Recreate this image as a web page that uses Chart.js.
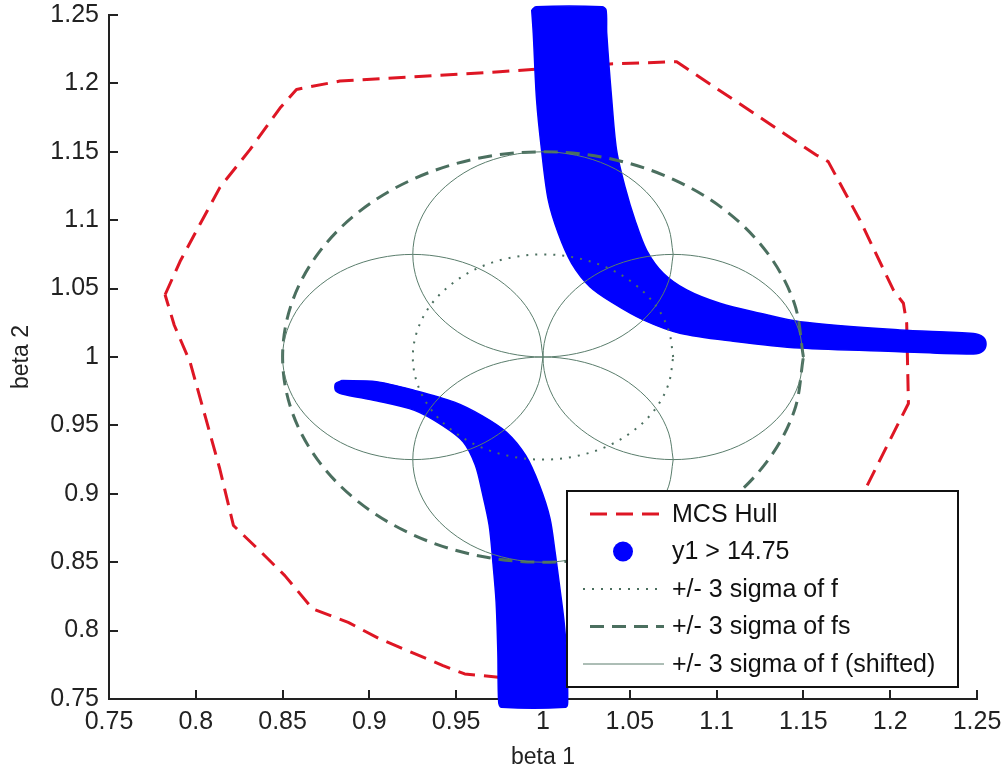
<!DOCTYPE html>
<html><head><meta charset="utf-8">
<script src="https://cdn.jsdelivr.net/npm/chart.js@4/dist/chart.umd.min.js"></script>
<style>html,body{margin:0;padding:0;background:#fff;}#wrap{position:relative;width:1007px;height:774px;}</style>
</head><body><div id="wrap"><canvas id="c" width="1007" height="774"></canvas></div>
<script>
// ---- tick labels ----
const xTickValues = [0.75,0.8,0.85,0.9,0.95,1,1.05,1.1,1.15,1.2,1.25];
const xTickLabels = ['0.75','0.8','0.85','0.9','0.95','1','1.05','1.1','1.15','1.2','1.25'];
const yTickValues = [0.75,0.8,0.85,0.9,0.95,1,1.05,1.1,1.15,1.2,1.25];
const yTickLabels = ['0.75','0.8','0.85','0.9','0.95','1','1.05','1.1','1.15','1.2','1.25'];

// ---- MCS Hull (red dashed) ----
const hullX = [0.7823,0.7909,0.8024,0.8139,0.8312,0.8485,0.858,0.883,0.975,1.0386,1.077,1.0828,1.1574,1.1643,1.1826,1.2018,1.2076,1.2095,1.2105,1.2018,1.1864,1.16,1.12,1.06,1.0,0.9743,0.9549,0.9424,0.906,0.8878,0.8673,0.8513,0.8377,0.8217,0.8138,0.8058,0.7967,0.7876,0.7823];
const hullY = [1.0455,1.0698,1.097,1.124,1.1516,1.182,1.1956,1.2017,1.2085,1.2142,1.2159,1.2109,1.1477,1.1428,1.1,1.049,1.0393,1.0246,0.966,0.9442,0.9052,0.87,0.83,0.79,0.767,0.7659,0.7683,0.7744,0.7939,0.806,0.8159,0.8402,0.8573,0.8768,0.9183,0.9549,0.9963,1.0232,1.0455];

// ---- y1 > 14.75 region outlines (blue) ----
const upperBandX = [0.9935,0.9944,0.9963,0.9992,1.003,1.0088,1.0165,1.027,1.0405,1.0578,1.0789,1.1096,1.148,1.2056,1.248,1.2535,1.2552,1.2535,1.248,1.2056,1.148,1.125,1.1019,1.0828,1.0693,1.0597,1.053,1.0472,1.0424,1.0396,1.0367,1.0363,1.034,0.996,0.9935];
const upperBandY = [1.2537,1.2366,1.188,1.151,1.115,1.0904,1.0685,1.0514,1.0393,1.0271,1.0173,1.0115,1.0065,1.0039,1.0022,1.0045,1.0095,1.0145,1.0172,1.0198,1.0258,1.032,1.0393,1.049,1.0612,1.078,1.1,1.1245,1.151,1.188,1.2366,1.2537,1.256,1.256,1.2537];
const lowerBandX = [0.8843,0.904,0.926,0.949,0.965,0.979,0.99,0.998,1.004,1.007,1.0095,1.012,1.0135,1.0142,1.013,0.976,0.9745,0.974,0.973,0.971,0.969,0.965,0.961,0.954,0.942,0.926,0.904,0.8843,0.8805,0.8805,0.8843];
const lowerBandY = [0.9828,0.982,0.9756,0.967,0.957,0.945,0.928,0.906,0.882,0.857,0.833,0.808,0.784,0.7475,0.744,0.744,0.7475,0.784,0.821,0.852,0.877,0.901,0.921,0.938,0.95,0.961,0.968,0.973,0.9755,0.9805,0.9828];

// ---- +/- 3 sigma of f (dotted) ----
const sigmaFX = [1.075,1.0724,1.065,1.053,1.0375,1.0194,1,0.9806,0.9625,0.947,0.935,0.9276,0.925,0.9276,0.935,0.947,0.9625,0.9806,1,1.0194,1.0375,1.053,1.065,1.0724,1.075];
const sigmaFY = [1,1.0194,1.0375,1.053,1.065,1.0724,1.075,1.0724,1.065,1.053,1.0375,1.0194,1,0.9806,0.9625,0.947,0.935,0.9276,0.925,0.9276,0.935,0.947,0.9625,0.9806,1];

// ---- +/- 3 sigma of fs (dashed) ----
const sigmaFsX = [1.15,1.1449,1.1299,1.1061,1.075,1.0388,1.0,0.9612,0.925,0.8939,0.8701,0.8551,0.85,0.8551,0.8701,0.8939,0.925,0.9612,1.0,1.0388,1.075,1.1061,1.1299,1.1449,1.15];
const sigmaFsY = [1.0,1.0388,1.075,1.1061,1.1299,1.1449,1.15,1.1449,1.1299,1.1061,1.075,1.0388,1.0,0.9612,0.925,0.8939,0.8701,0.8551,0.85,0.8551,0.8701,0.8939,0.925,0.9612,1.0];

// ---- +/- 3 sigma of f (shifted): four circles ----
const shiftTopX = [1.075,1.0724,1.065,1.053,1.0375,1.0194,1,0.9806,0.9625,0.947,0.935,0.9276,0.925,0.9276,0.935,0.947,0.9625,0.9806,1,1.0194,1.0375,1.053,1.065,1.0724,1.075];
const shiftTopY = [1.075,1.0944,1.1125,1.128,1.14,1.1474,1.15,1.1474,1.14,1.128,1.1125,1.0944,1.075,1.0556,1.0375,1.022,1.01,1.0026,1.0,1.0026,1.01,1.022,1.0375,1.0556,1.075];
const shiftBottomX = [1.075,1.0724,1.065,1.053,1.0375,1.0194,1,0.9806,0.9625,0.947,0.935,0.9276,0.925,0.9276,0.935,0.947,0.9625,0.9806,1,1.0194,1.0375,1.053,1.065,1.0724,1.075];
const shiftBottomY = [0.925,0.9444,0.9625,0.978,0.99,0.9974,1.0,0.9974,0.99,0.978,0.9625,0.9444,0.925,0.9056,0.8875,0.872,0.86,0.8526,0.85,0.8526,0.86,0.872,0.8875,0.9056,0.925];
const shiftLeftX = [1.0,0.9974,0.99,0.978,0.9625,0.9444,0.925,0.9056,0.8875,0.872,0.86,0.8526,0.85,0.8526,0.86,0.872,0.8875,0.9056,0.925,0.9444,0.9625,0.978,0.99,0.9974,1.0];
const shiftLeftY = [1.0,1.0194,1.0375,1.053,1.065,1.0724,1.075,1.0724,1.065,1.053,1.0375,1.0194,1.0,0.9806,0.9625,0.947,0.935,0.9276,0.925,0.9276,0.935,0.947,0.9625,0.9806,1.0];
const shiftRightX = [1.15,1.1474,1.14,1.128,1.1125,1.0944,1.075,1.0556,1.0375,1.022,1.01,1.0026,1.0,1.0026,1.01,1.022,1.0375,1.0556,1.075,1.0944,1.1125,1.128,1.14,1.1474,1.15];
const shiftRightY = [1.0,1.0194,1.0375,1.053,1.065,1.0724,1.075,1.0724,1.065,1.053,1.0375,1.0194,1.0,0.9806,0.9625,0.947,0.935,0.9276,0.925,0.9276,0.935,0.947,0.9625,0.9806,1.0];

const toPts = (xs, ys) => xs.map((x, i) => ({x: x, y: ys[i]}));

const RED = 'rgb(222,22,36)';
const BLUE = '#0000ff';
const GREEN = '#4b6f5f';
const GREEN_THIN = '#5a7d6c';
const FONT = "'Liberation Sans', Arial, Helvetica, sans-serif";

function lineDs(label, pts, color, width, dash, order, tension) {
  return {label, data: pts, showLine: true, borderColor: color, backgroundColor: color,
    borderWidth: width, borderDash: dash, pointRadius: 0, pointHoverRadius: 0,
    fill: false, tension: tension, order: order, borderCapStyle: 'butt', borderJoinStyle: 'round'};
}
function bandDs(pts) {
  return {label: 'y1 > 14.75', data: pts, showLine: true, borderColor: BLUE, backgroundColor: BLUE,
    borderWidth: 1.5, pointRadius: 0, pointHoverRadius: 0, fill: 'shape', tension: 0.3, order: 9,
    clip: false, legendMarker: 'dot'};
}

const datasets = [
  lineDs('MCS Hull', toPts(hullX, hullY), RED, 3, [17, 9], 10, 0),
  bandDs(toPts(upperBandX, upperBandY)),
  bandDs(toPts(lowerBandX, lowerBandY)),
  lineDs('+/- 3 sigma of f', toPts(sigmaFX, sigmaFY), GREEN, 2, [2, 7], 3, 0.34),
  lineDs('+/- 3 sigma of fs', toPts(sigmaFsX, sigmaFsY), GREEN, 3, [14, 8], 2, 0.34),
  lineDs('+/- 3 sigma of f (shifted)', toPts(shiftTopX, shiftTopY), GREEN_THIN, 1, [], 1, 0.34),
  lineDs('+/- 3 sigma of f (shifted)', toPts(shiftBottomX, shiftBottomY), GREEN_THIN, 1, [], 1, 0.34),
  lineDs('+/- 3 sigma of f (shifted)', toPts(shiftLeftX, shiftLeftY), GREEN_THIN, 1, [], 1, 0.34),
  lineDs('+/- 3 sigma of f (shifted)', toPts(shiftRightX, shiftRightY), GREEN_THIN, 1, [], 1, 0.34)
];

// inward tick marks (MATLAB style), drawn under the data
const inwardTicks = {
  id: 'inwardTicks',
  beforeDatasetsDraw(chart) {
    const {ctx, chartArea: a, scales: {x, y}} = chart;
    ctx.save();
    ctx.strokeStyle = '#222';
    ctx.lineWidth = 2;
    ctx.beginPath();
    x.ticks.forEach(t => { const px = Math.round(x.getPixelForValue(t.value)); ctx.moveTo(px, a.bottom); ctx.lineTo(px, a.bottom - 9); });
    y.ticks.forEach(t => { const py = Math.round(y.getPixelForValue(t.value)); ctx.moveTo(a.left, py); ctx.lineTo(a.left + 9, py); });
    ctx.stroke();
    ctx.restore();
  }
};

// let the big blue markers spill slightly past the axes, as in the original
const looseClip = {
  id: 'looseClip',
  beforeDatasetsDraw(chart) {
    const a = chart.chartArea;
    this._saved = a;
    chart.chartArea = {left: a.left, right: a.right + 20, top: a.top - 14, bottom: a.bottom + 14,
      width: a.width + 20, height: a.height + 28};
  },
  afterDatasetsDraw(chart) {
    if (this._saved) chart.chartArea = this._saved;
  }
};

// boxed legend inside the axes, lower right
const boxLegend = {
  id: 'boxLegend',
  afterDraw(chart) {
    const {ctx, chartArea: a} = chart;
    const seen = new Set();
    const items = [];
    chart.data.datasets.forEach(ds => { if (!seen.has(ds.label)) { seen.add(ds.label); items.push(ds); } });
    const right = a.right - 19, bottom = a.bottom - 12;
    const w = 391, h = 196;
    const left = right - w, top = bottom - h;
    ctx.save();
    ctx.fillStyle = '#fff';
    ctx.fillRect(left, top, w, h);
    ctx.strokeStyle = '#111';
    ctx.lineWidth = 2;
    ctx.setLineDash([]);
    ctx.strokeRect(left, top, w, h);
    ctx.font = '25px ' + FONT;
    ctx.textBaseline = 'middle';
    ctx.textAlign = 'left';
    items.forEach((ds, i) => {
      const cy = top + 23 + i * 37.5;
      if (ds.legendMarker === 'dot') {
        ctx.fillStyle = ds.backgroundColor;
        ctx.beginPath();
        ctx.arc(left + 56, cy, 10, 0, Math.PI * 2);
        ctx.fill();
      } else {
        ctx.strokeStyle = ds.borderColor;
        ctx.lineWidth = ds.borderWidth;
        ctx.setLineDash(ds.borderDash || []);
        ctx.beginPath();
        const x0 = ds.borderDash && ds.borderDash[0] > 10 ? left + 23 : left + 16;
        ctx.moveTo(x0, cy);
        ctx.lineTo(left + 97, cy);
        ctx.stroke();
        ctx.setLineDash([]);
      }
      ctx.fillStyle = '#111';
      ctx.fillText(ds.label, left + 105, cy + 1);
    });
    ctx.restore();
  }
};

new Chart(document.getElementById('c'), {
  type: 'scatter',
  data: {datasets},
  options: {
    responsive: false,
    animation: false,
    devicePixelRatio: 1,
    layout: {padding: {top: 15, right: 30, left: 0, bottom: 0}},
    plugins: {legend: {display: false}, tooltip: {enabled: false}},
    scales: {
      x: {
        type: 'linear', min: 0.75, max: 1.25,
        afterBuildTicks: s => { s.ticks = xTickValues.map(v => ({value: v})); },
        afterFit: s => { s.height = 75; s.paddingLeft = 0; s.paddingRight = 0; },
        ticks: {callback: (v, i) => xTickLabels[i], font: {size: 25, family: FONT}, color: '#222', padding: 8, maxRotation: 0, autoSkip: false},
        grid: {display: true, drawOnChartArea: false, drawTicks: false},
        border: {display: true, color: '#222', width: 2},
        title: {display: true, text: 'beta 1', font: {size: 23, family: FONT}, color: '#222', padding: {top: 0, bottom: 3}}
      },
      y: {
        type: 'linear', min: 0.75, max: 1.25,
        afterBuildTicks: s => { s.ticks = yTickValues.map(v => ({value: v})); },
        afterFit: s => { s.width = 109; s.paddingTop = 0; s.paddingBottom = 0; },
        ticks: {callback: (v, i) => yTickLabels[i], font: {size: 25, family: FONT}, color: '#222', padding: 10, autoSkip: false},
        grid: {display: true, drawOnChartArea: false, drawTicks: false},
        border: {display: true, color: '#222', width: 2},
        title: {display: true, text: 'beta 2', font: {size: 23, family: FONT}, color: '#222', padding: {top: 8, bottom: 0}}
      }
    }
  },
  plugins: [inwardTicks, looseClip, boxLegend]
});
</script></body></html>
